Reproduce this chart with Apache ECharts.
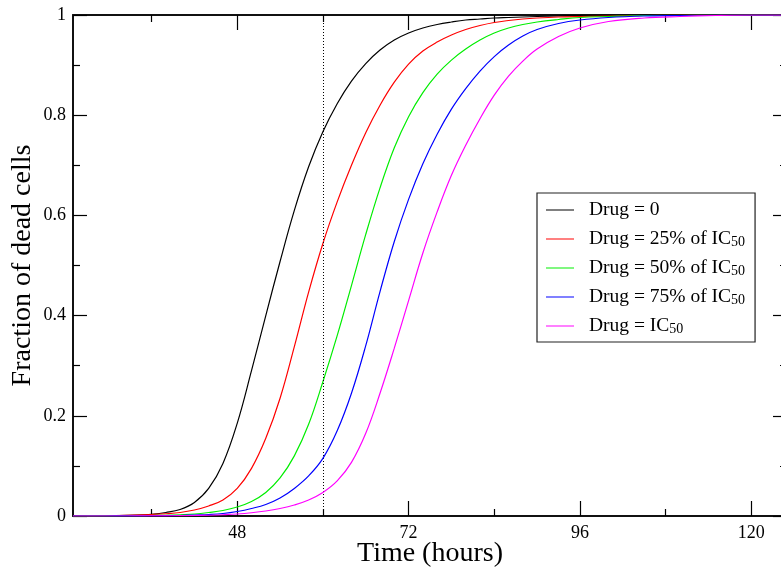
<!DOCTYPE html>
<html>
<head>
<meta charset="utf-8">
<script src="https://cdn.jsdelivr.net/npm/echarts@6/dist/echarts.min.js"></script>
<style>html,body{margin:0;padding:0;background:#fff;}#chart{width:781px;height:571px;}</style>
</head>
<body>
<div id="chart"></div>
<script>
const times   = [25, 28, 31, 34, 36, 38, 40, 42, 44, 46, 48, 50, 52, 54, 56, 58, 60, 62, 64, 66, 68, 70, 72, 74, 76, 78, 80, 82, 84, 86, 88, 90, 93, 96, 100, 105, 110, 115, 120, 125];
const drug0   = [0, 0.0002, 0.0007, 0.0018, 0.0035, 0.007, 0.013, 0.027, 0.055, 0.105, 0.185, 0.290, 0.400, 0.508, 0.610, 0.697, 0.767, 0.823, 0.868, 0.903, 0.930, 0.950, 0.964, 0.974, 0.981, 0.986, 0.990, 0.992, 0.994, 0.995, 0.996, 0.997, 0.998, 0.999, 0.9995, 1, 1, 1, 1, 1];
const drug25  = [0, 0.0004, 0.001, 0.002, 0.003, 0.0045, 0.007, 0.012, 0.020, 0.032, 0.055, 0.095, 0.155, 0.235, 0.338, 0.447, 0.544, 0.627, 0.700, 0.765, 0.820, 0.866, 0.902, 0.928, 0.946, 0.960, 0.971, 0.979, 0.985, 0.989, 0.992, 0.994, 0.996, 0.997, 0.998, 0.999, 1, 1, 1, 1];
const drug50  = [0, 0.0001, 0.0003, 0.0007, 0.001, 0.0015, 0.0025, 0.004, 0.007, 0.011, 0.018, 0.029, 0.047, 0.076, 0.120, 0.183, 0.268, 0.360, 0.460, 0.562, 0.655, 0.735, 0.797, 0.845, 0.882, 0.910, 0.932, 0.950, 0.964, 0.974, 0.981, 0.986, 0.991, 0.995, 0.997, 0.999, 0.9995, 1, 1, 1];
const drug75  = [0, 0, 0.0001, 0.0003, 0.0005, 0.0008, 0.001, 0.002, 0.003, 0.005, 0.009, 0.015, 0.023, 0.036, 0.055, 0.080, 0.115, 0.170, 0.245, 0.340, 0.448, 0.548, 0.632, 0.703, 0.762, 0.812, 0.853, 0.888, 0.917, 0.940, 0.958, 0.971, 0.983, 0.990, 0.995, 0.998, 0.999, 1, 1, 1];
const drug100 = [0, 0, 0, 0.0001, 0.0002, 0.0004, 0.0007, 0.001, 0.0015, 0.0025, 0.004, 0.0065, 0.010, 0.015, 0.022, 0.032, 0.047, 0.070, 0.107, 0.165, 0.245, 0.335, 0.430, 0.525, 0.607, 0.680, 0.740, 0.793, 0.840, 0.878, 0.908, 0.932, 0.957, 0.974, 0.987, 0.994, 0.997, 0.999, 1, 1];

const seriesNames = ['Drug = 0', 'Drug = 25% of IC50', 'Drug = 50% of IC50', 'Drug = 75% of IC50', 'Drug = IC50'];
const seriesValues = [drug0, drug25, drug50, drug75, drug100];
const seriesColors = ['#000000', '#ff0000', '#00ee00', '#0000ff', '#ff00ff'];
const majorXTicks = [48, 72, 96, 120];
const minorXTicks = [36, 60, 84, 108];
const markTime = 60;

const FONT = 'Liberation Serif';
const chart = echarts.init(document.getElementById('chart'), null, {renderer: 'canvas'});

function xAx(pos, major, showLine, withLabel, withName) {
  return {
    type: 'value', position: pos, min: 25, max: 125,
    axisLine: {show: showLine, onZero: false, lineStyle: {color: '#111', width: 2}},
    axisTick: {show: true, inside: true, length: major ? 15 : 7, customValues: major ? majorXTicks : minorXTicks, lineStyle: {color: '#000', width: 1.2}},
    axisLabel: {show: withLabel, customValues: majorXTicks, margin: 8, color: '#000', fontFamily: FONT, fontSize: 18},
    splitLine: {show: false},
    name: withName ? 'Time (hours)' : '',
    nameLocation: 'middle', nameGap: 24, nameMoveOverlap: false,
    nameTextStyle: {fontFamily: FONT, fontSize: 28, color: '#000'}
  };
}
function yAx(pos, withLabel) {
  return {
    type: 'value', position: pos, min: 0, max: 1, interval: 0.2,
    axisLine: {show: true, onZero: false, lineStyle: {color: '#111', width: 2}},
    axisTick: {show: true, inside: true, length: 14, lineStyle: {color: '#000', width: 1.2}},
    minorTick: {show: true, splitNumber: 2, length: 7, lineStyle: {color: '#000', width: 1.2}},
    axisLabel: {show: withLabel, margin: 7, color: '#000', fontFamily: FONT, fontSize: 18},
    splitLine: {show: false},
    name: withLabel ? 'Fraction of dead cells' : '',
    nameLocation: 'middle', nameGap: 36, nameMoveOverlap: false,
    nameTextStyle: {fontFamily: FONT, fontSize: 28, color: '#000'}
  };
}

const series = seriesNames.map((name, k) => ({
  name: name,
  type: 'line',
  data: times.map((t, i) => [t, seriesValues[k][i]]),
  smooth: 0.4,
  showSymbol: false,
  symbol: 'none',
  lineStyle: {color: seriesColors[k], width: 1.2},
  itemStyle: {color: seriesColors[k]},
  z: 2 + k,
  markLine: k === 0 ? {
    silent: true, symbol: 'none', label: {show: false},
    lineStyle: {color: '#000', type: [1, 2], width: 1},
    data: [{xAxis: markTime}]
  } : undefined
}));

chart.setOption({
  animation: false,
  backgroundColor: '#fff',
  grid: {left: 73, top: 15, right: -6, bottom: 55, containLabel: false, outerBoundsMode: 'none'},
  xAxis: [xAx('bottom', true, true, true, true), xAx('bottom', false, false, false, false), xAx('top', true, true, false, false), xAx('top', false, false, false, false)],
  yAxis: [yAx('left', true), yAx('right', false)],
  legend: {
    orient: 'vertical', left: 537, top: 193,
    padding: [7, 10, 6, 9], itemGap: 9,
    itemWidth: 28, itemHeight: 1,
    icon: 'rect',
    backgroundColor: '#fff', borderColor: '#222', borderWidth: 1.2, borderRadius: 0,
    data: seriesNames,
    formatter: function (name) {
      return '{gap|}' + name.replace('IC50', 'IC{sub|50}');
    },
    textStyle: {
      fontFamily: FONT, fontSize: 19.5, color: '#000', lineHeight: 20,
      rich: {
        gap: {width: 10, lineHeight: 20},
        sub: {fontFamily: FONT, fontSize: 14, color: '#000', lineHeight: 6, verticalAlign: 'bottom'}
      }
    }
  },
  series: series
});
</script>
</body>
</html>
